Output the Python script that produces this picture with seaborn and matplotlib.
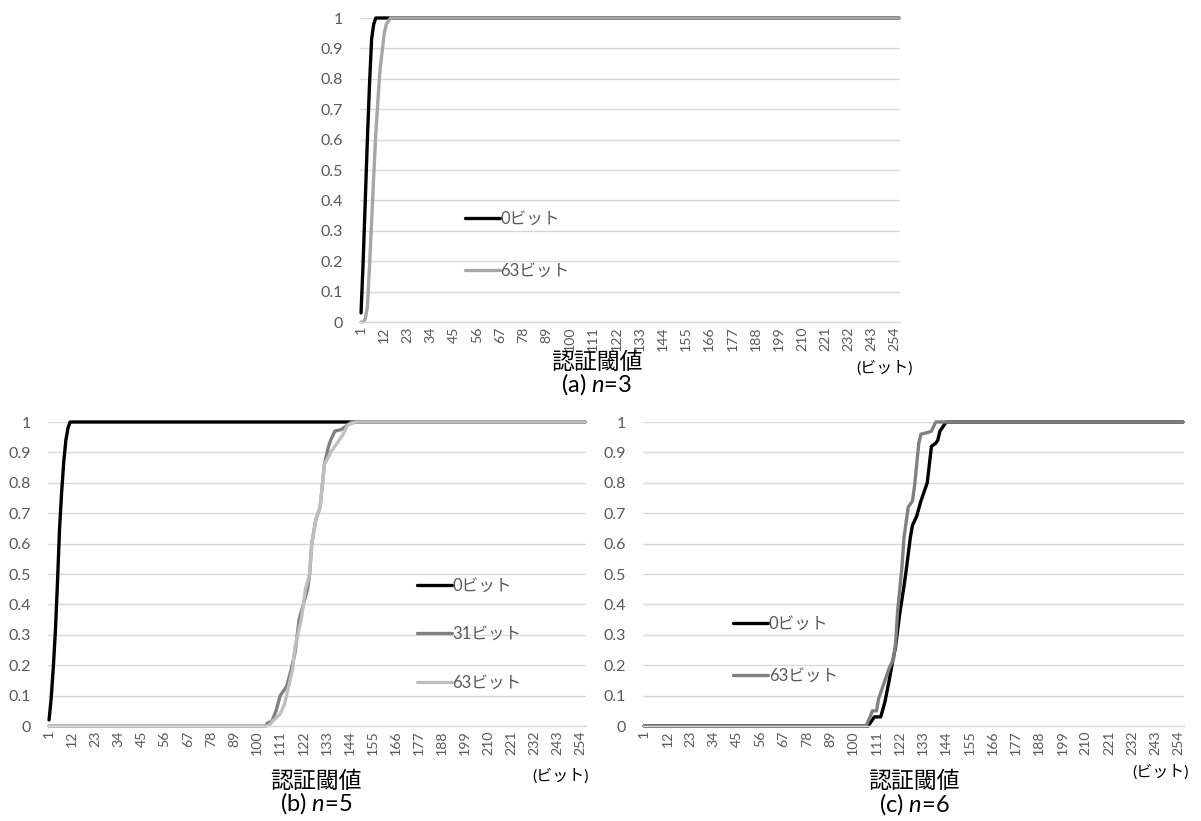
import numpy as np
import pandas as pd
import matplotlib
matplotlib.use("Agg")
import matplotlib.pyplot as plt
import seaborn as sns
from matplotlib.ticker import FuncFormatter

# ---------------- data (threshold in bits, cumulative ratio) ----------------
# (a) n=3
a_x0 = [1, 2, 3, 4, 5, 6, 7, 8, 256]
a_y0 = [0.03, 0.2, 0.4, 0.6, 0.78, 0.93, 0.98, 1.0, 1.0]
a_x63 = [1, 2, 3, 4, 5, 6, 7, 8, 9, 10, 11, 12, 13, 14, 15, 256]
a_y63 = [0, 0, 0.01, 0.05, 0.18, 0.33, 0.48, 0.62, 0.73, 0.83, 0.89, 0.95, 0.98, 0.99, 1.0, 1.0]

# (b) n=5
b_x0 = [1, 2, 3, 4, 5, 6, 7, 8, 9, 10, 11, 256]
b_y0 = [0.02, 0.09, 0.19, 0.31, 0.47, 0.65, 0.77, 0.87, 0.94, 0.98, 1.0, 1.0]
b_x31 = [1, 104, 105, 107, 109, 111, 114, 116, 118, 120, 122, 124, 125, 126, 128, 130, 131, 132,
         134, 135, 137, 140, 143, 145, 256]
b_y31 = [0, 0, 0.01, 0.015, 0.05, 0.1, 0.13, 0.18, 0.24, 0.35, 0.40, 0.45, 0.5, 0.6, 0.68, 0.72,
         0.79, 0.86, 0.92, 0.94, 0.97, 0.975, 0.99, 1.0, 1.0]
b_x63 = [1, 105, 106, 108, 111, 113, 115, 117, 118, 119, 121, 123, 125, 126, 128, 130, 131, 132,
         135, 138, 141, 143, 147, 256]
b_y63 = [0, 0, 0.005, 0.02, 0.04, 0.07, 0.13, 0.19, 0.26, 0.29, 0.35, 0.45, 0.5, 0.6, 0.68, 0.72,
         0.79, 0.86, 0.9, 0.93, 0.96, 0.99, 1.0, 1.0]

# (c) n=6
c_x0 = [1, 107, 109, 110, 113, 115, 117, 118, 120, 122, 124, 125, 127, 128, 130, 132, 134, 135,
        137, 139, 140, 141, 143, 144, 256]
c_y0 = [0, 0, 0.02, 0.03, 0.03, 0.08, 0.15, 0.19, 0.26, 0.37, 0.46, 0.51, 0.62, 0.66, 0.69, 0.74,
        0.78, 0.80, 0.92, 0.93, 0.94, 0.97, 0.99, 1.0, 1.0]
c_x63 = [1, 106, 108, 109, 111, 112, 114, 117, 119, 120, 121, 122, 123, 124, 126, 128, 129, 131,
         132, 135, 137, 139, 256]
c_y63 = [0, 0, 0.03, 0.05, 0.05, 0.09, 0.13, 0.19, 0.22, 0.27, 0.38, 0.45, 0.52, 0.62, 0.72, 0.74,
         0.79, 0.93, 0.96, 0.965, 0.97, 1.0, 1.0]

x_ticks = list(range(1, 257, 11))
y_ticks = [round(v * 0.1, 1) for v in range(11)]

# ---------------- style ----------------
sns.set_theme(style="white")
plt.rcParams['font.family'] = ['Lato', 'Noto Sans CJK JP', 'DejaVu Sans']
plt.rcParams['mathtext.fontset'] = 'custom'
plt.rcParams['mathtext.it'] = 'Lato:italic'
plt.rcParams['mathtext.rm'] = 'Lato'

TXT = '#595959'
GRID = '#d9d9d9'

W, H = 1201, 821
fig = plt.figure(figsize=(W / 100, H / 100), dpi=100)


def add_ax(l, t, r, b):
    return fig.add_axes([l / W, 1 - b / H, (r - l) / W, (b - t) / H])


def panel(ax, series, palette, leg_xy, leg_spacing):
    frames = []
    for name, xs, ys in series:
        frames.append(pd.DataFrame({'x': xs, 'y': ys, 's': name}))
    df = pd.concat(frames, ignore_index=True)
    sns.lineplot(data=df, x='x', y='y', hue='s', palette=palette, linewidth=2.4,
                 ax=ax, legend=True, estimator=None, sort=True)
    for ln in ax.get_lines():
        ln.set_clip_on(False)
        ln.set_solid_joinstyle('round')
    ax.set_xlim(0.5, 256.5)
    ax.set_ylim(0, 1)
    ax.set_xticks(x_ticks)
    ax.set_xticklabels([str(v) for v in x_ticks], rotation=90, fontsize=10.2, color=TXT)
    ax.set_yticks(y_ticks)
    ax.yaxis.set_major_formatter(FuncFormatter(lambda v, p: f"{v:g}"))
    ax.tick_params(axis='y', length=0, pad=12, labelsize=11.5, labelcolor=TXT)
    ax.tick_params(axis='x', length=0, pad=3)
    ax.yaxis.grid(True, color=GRID, linewidth=1)
    ax.xaxis.grid(False)
    ax.set_axisbelow(True)
    for s in ['left', 'right', 'top']:
        ax.spines[s].set_visible(False)
    ax.spines['bottom'].set_color(GRID)
    ax.spines['bottom'].set_linewidth(1)
    ax.set_xlabel('')
    ax.set_ylabel('')
    handles, labels = ax.get_legend_handles_labels()
    leg = ax.legend(handles, labels, loc='center left', bbox_to_anchor=leg_xy,
                    frameon=False, fontsize=12, labelcolor=TXT, borderpad=0,
                    borderaxespad=0, handlelength=2.1, handletextpad=0.05,
                    labelspacing=leg_spacing)
    for h in leg.get_lines():
        h.set_linewidth(2.4)


# (a)
ax_a = add_ax(360, 18, 900, 322)
panel(ax_a, [('0ビット', a_x0, a_y0), ('63ビット', a_x63, a_y63)],
      ['#000000', '#a6a6a6'], (0.194, 0.255), 2.15)
# (b)
ax_b = add_ax(48, 422, 586, 726)
panel(ax_b, [('0ビット', b_x0, b_y0), ('31ビット', b_x31, b_y31), ('63ビット', b_x63, b_y63)],
      ['#000000', '#808080', '#bfbfbf'], (0.685, 0.302), 1.95)
# (c)
ax_c = add_ax(643, 422, 1184, 726)
panel(ax_c, [('0ビット', c_x0, c_y0), ('63ビット', c_x63, c_y63)],
      ['#000000', '#808080'], (0.166, 0.251), 2.15)

# ---------------- captions ----------------
def cap(xc, y1, y2, letter, n, unit_x, unit_y):
    fig.text(xc / W, 1 - y1 / H, '認証閾値', ha='center', va='center', fontsize=16.5, color='#000000')
    fig.text(xc / W, 1 - y2 / H, f'({letter}) $n$={n}', ha='center', va='center', fontsize=17,
             color='#000000')
    fig.text(unit_x / W, 1 - unit_y / H, '(ビット)', ha='right', va='center', fontsize=11.5,
             color='#000000')


cap(597, 362, 384, 'a', 3, 913, 368)
cap(316, 781, 803, 'b', 5, 589, 776)
cap(914, 781, 804, 'c', 6, 1189, 772)

fig.savefig('out.png', dpi=100, facecolor='white')
